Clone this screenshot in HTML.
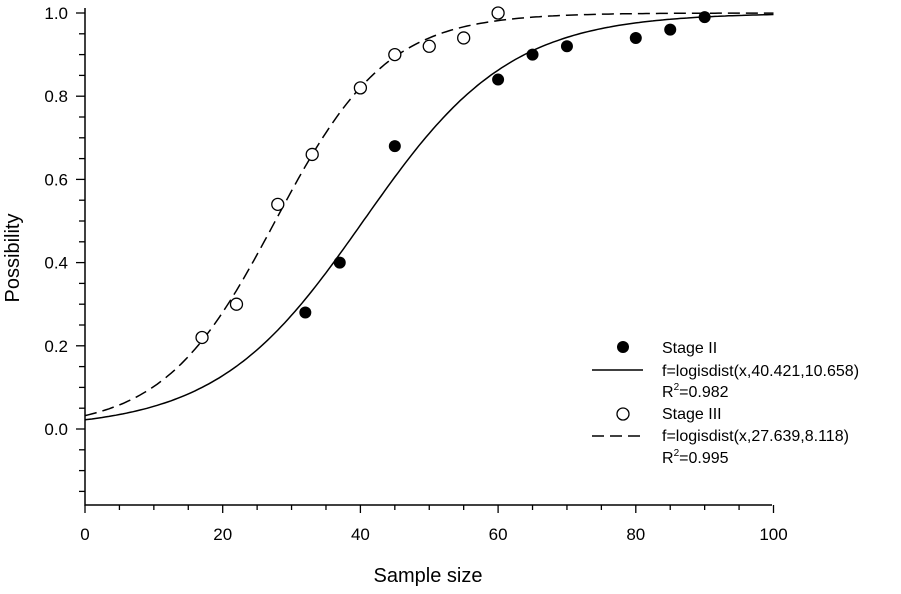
<!DOCTYPE html>
<html><head><meta charset="utf-8"><style>
body{margin:0;background:#fff}
svg text{font-family:"Liberation Sans",Arial,sans-serif;fill:#000}
</style></head><body>
<svg id="c" width="901" height="589"></svg>
<script>
const xTicks=[0,20,40,60,80,100];
const yTicks=[0.0,0.2,0.4,0.6,0.8,1.0];
const s2x=[32,37,45,60,65,70,80,85,90];
const s2y=[0.28,0.40,0.68,0.84,0.90,0.92,0.94,0.96,0.99];
const s3x=[17,22,28,33,40,45,50,55,60];
const s3y=[0.22,0.30,0.54,0.66,0.82,0.90,0.92,0.94,1.00];
const fit2=[40.421,10.658];
const fit3=[27.639,8.118];
const NS="http://www.w3.org/2000/svg",svg=document.getElementById('c');
const X=v=>85+v*6.885, Y=v=>429-v*416;
function el(t,a,p){const e=document.createElementNS(NS,t);for(const k in a)e.setAttribute(k,a[k]);(p||svg).appendChild(e);return e;}
let ax=el('path',{d:`M85 8V505H772`,stroke:'#000','stroke-width':1.5,fill:'none'});


for(let v=0;v<=100;v+=5){let t=el('line',{x1:X(v),x2:X(v),y1:505,y2:v%20?510:513,stroke:'#000','stroke-width':1.3});

}
for(let v=-0.15;v<=1.001;v+=0.05){let t=el('line',{x1:85,x2:Math.abs(Math.round(v*100))%20?79:76,y1:Y(v),y2:Y(v),stroke:'#000','stroke-width':1.3});

}
xTicks.forEach(v=>{let t=el('text',{x:X(v),y:540,'font-size':17,'text-anchor':'middle'});t.textContent=v;

});
yTicks.forEach(v=>{let t=el('text',{x:68,y:Y(v)+6,'font-size':17,'text-anchor':'end'});t.textContent=v.toFixed(1);

});
let xl=el('text',{x:428,y:582,'font-size':20,'text-anchor':'middle'});xl.textContent='Sample size';


let yl=el('text',{x:0,y:0,'font-size':20,'text-anchor':'middle',transform:'translate(19,258) rotate(-90)'});yl.textContent='Possibility';


function curve(p,dash,name){let d='';for(let x=0;x<=100;x+=0.5){const y=1/(1+Math.exp(-(x-p[0])/p[1]));d+=(x?'L':'M')+X(x).toFixed(1)+' '+Y(y).toFixed(1);}
let c=el('path',{d,stroke:'#000','stroke-width':1.5,fill:'none','stroke-dasharray':dash});

}
curve(fit2,'none','stage-ii-fit');curve(fit3,'12,6','stage-iii-fit');
s2x.forEach((x,i)=>{let c=el('circle',{cx:X(x),cy:Y(s2y[i]),r:6,fill:'#000'});

});
s3x.forEach((x,i)=>{let c=el('circle',{cx:X(x),cy:Y(s3y[i]),r:6,fill:'#fff',stroke:'#000','stroke-width':1.3});

});
const g=el('g',{});


el('circle',{cx:623,cy:347,r:6,fill:'#000'},g);
el('line',{x1:592,x2:643,y1:370,y2:370,stroke:'#000','stroke-width':1.5},g);
el('circle',{cx:623,cy:414,r:6,fill:'#fff',stroke:'#000','stroke-width':1.3},g);
el('line',{x1:592,x2:643,y1:436,y2:436,stroke:'#000','stroke-width':1.5,'stroke-dasharray':'12,6'},g);
const rows=[['Stage II',353],['f=logisdist(x,40.421,10.658)',376],[null,397],['Stage III',419],['f=logisdist(x,27.639,8.118)',441],[null,463]];
const r2=['0.982','0.995'];let k=0;
rows.forEach(([t,y])=>{let e=el('text',{x:662,y,'font-size':16},g);
if(t)e.textContent=t;else{e.innerHTML='R<tspan font-size="10" dy="-7">2</tspan><tspan dy="7">='+r2[k++]+'</tspan>';}

});
</script>
</body></html>
